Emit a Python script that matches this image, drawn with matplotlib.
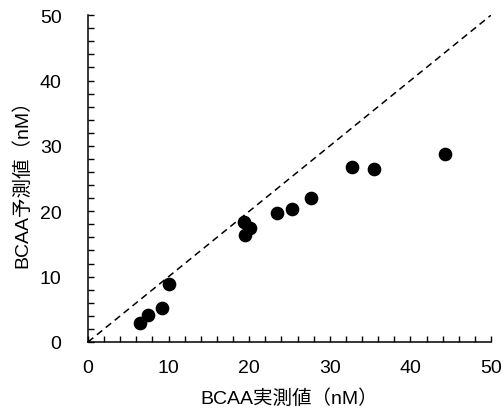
import matplotlib
matplotlib.use("Agg")
import matplotlib.pyplot as plt
from matplotlib.ticker import MultipleLocator

plt.rcParams['font.family'] = ['Liberation Sans', 'Noto Sans CJK JP']

# measured vs predicted BCAA (nM)
measured = [6.5, 7.4, 9.2, 10.1, 19.3, 19.5, 20.1, 23.4, 25.3, 27.7, 32.7, 35.5, 44.3]
predicted = [2.9, 4.1, 5.2, 8.8, 18.4, 16.4, 17.4, 19.8, 20.3, 22.0, 26.7, 26.5, 28.7]
ideal = [0, 50]

fig = plt.figure(figsize=(5.04, 4.14), dpi=100)
ax = fig.add_axes([0.1746, 0.1715, 0.7996, 0.7895])

ax.plot(ideal, ideal, color='black', linestyle=(0, (4.5, 3)), linewidth=1.1)
ax.scatter(measured, predicted, s=78, color='black', zorder=3, clip_on=False)

ax.set_xlim(0, 50)
ax.set_ylim(0, 50)
ax.xaxis.set_major_locator(MultipleLocator(10))
ax.yaxis.set_major_locator(MultipleLocator(10))
ax.xaxis.set_minor_locator(MultipleLocator(2))
ax.yaxis.set_minor_locator(MultipleLocator(2))
ax.tick_params(which='both', direction='in', length=4, width=1, labelsize=14)
ax.tick_params(axis='x', pad=12)
ax.tick_params(axis='y', pad=19)

for s in ['top', 'right']:
    ax.spines[s].set_visible(False)
for s in ['left', 'bottom']:
    ax.spines[s].set_linewidth(1.1)

ax.set_xlabel('BCAA実測値（nM）', fontsize=14, labelpad=9)
ax.set_ylabel('BCAA予測値（nM）', fontsize=14, labelpad=6)

fig.savefig('out.png', dpi=100)
